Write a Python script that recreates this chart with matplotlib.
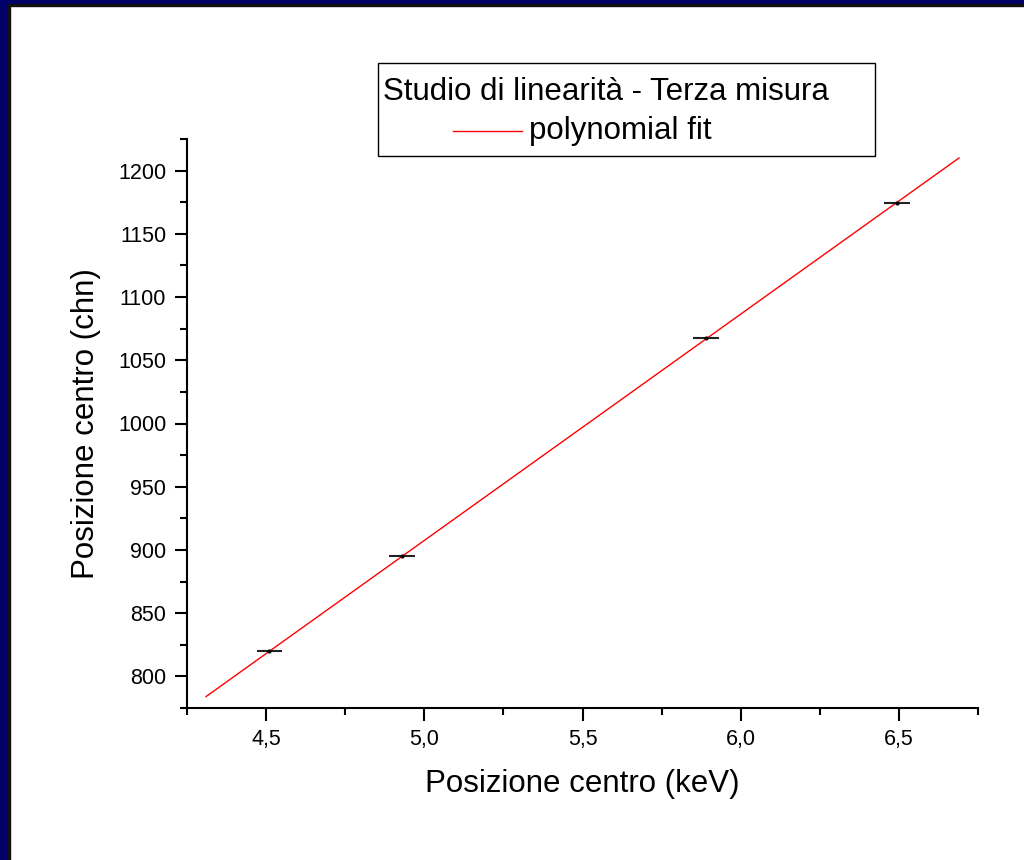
import matplotlib
matplotlib.use("Agg")
import matplotlib.pyplot as plt
from matplotlib.patches import Rectangle
from matplotlib.lines import Line2D
from matplotlib.ticker import MultipleLocator, FuncFormatter

plt.rcParams["font.family"] = ["Liberation Sans", "DejaVu Sans"]

# measured peak centres
energy_kev = [4.51, 4.93, 5.89, 6.494]
channel = [820, 895, 1068, 1174]
energy_err = [0.04, 0.04, 0.04, 0.04]

# polynomial fit line (end points)
fit_x = [4.31, 6.69]
fit_y = [784, 1210]

W, H = 1024, 860
fig = plt.figure(figsize=(W / 100, H / 100), dpi=100)


def fx(px):
    return px / W


def fy(py):
    return 1 - py / H


# navy frame on left/top edges, like the original screenshot
for x0, y0, w, h, c in [(0, 0, 8, H, "#000068"), (0, H - 4, W, 4, "#000068"),
                        (8, 0, 2, H - 4, "#111111"), (8, H - 6, W - 8, 2, "#111111")]:
    fig.patches.append(Rectangle((x0 / W, y0 / H), w / W, h / H,
                                 transform=fig.transFigure, color=c, zorder=0))

ax = fig.add_axes([fx(187), fy(708), (978 - 187) / W, (708 - 139) / H])

ax.plot(fit_x, fit_y, color="red", lw=1, zorder=2)
ax.errorbar(energy_kev, channel, xerr=energy_err, fmt="o", ms=2, color="black",
            ecolor="#222222", elinewidth=1.5, capsize=0, zorder=3)

ax.set_xlim(4.25, 6.75)
ax.set_ylim(775, 1225)
ax.xaxis.set_major_locator(MultipleLocator(0.5))
ax.xaxis.set_minor_locator(MultipleLocator(0.25))
ax.yaxis.set_major_locator(MultipleLocator(50))
ax.yaxis.set_minor_locator(MultipleLocator(25))
ax.xaxis.set_major_formatter(FuncFormatter(lambda v, p: f"{v:.1f}".replace(".", ",")))

for s in ("top", "right"):
    ax.spines[s].set_visible(False)
for s in ("left", "bottom"):
    ax.spines[s].set_linewidth(1.5)
ax.tick_params(which="major", length=9, width=1.5, labelsize=15.5, pad=6)
ax.tick_params(which="minor", length=5, width=1.5)

ax.set_xlabel("Posizione centro (keV)", fontsize=22.5, labelpad=14)
ax.set_ylabel("Posizione centro (chn)", fontsize=22.5, labelpad=12)

# legend box, laid out as in the original
fig.patches.append(Rectangle((fx(378), fy(156)), (875 - 378) / W, (156 - 63) / H,
                             transform=fig.transFigure, facecolor="white",
                             edgecolor="black", lw=1, zorder=5))
fig.text(fx(383), fy(92), "Studio di linearità - Terza misura", fontsize=22.5,
         va="center", ha="left", zorder=6)
fig.lines.append(Line2D([fx(453), fx(522)], [fy(131), fy(131)], color="red", lw=1,
                        transform=fig.transFigure, zorder=6))
fig.text(fx(529), fy(131), "polynomial fit", fontsize=22.5, va="center", ha="left",
         zorder=6)

fig.savefig("out.png", dpi=100)
